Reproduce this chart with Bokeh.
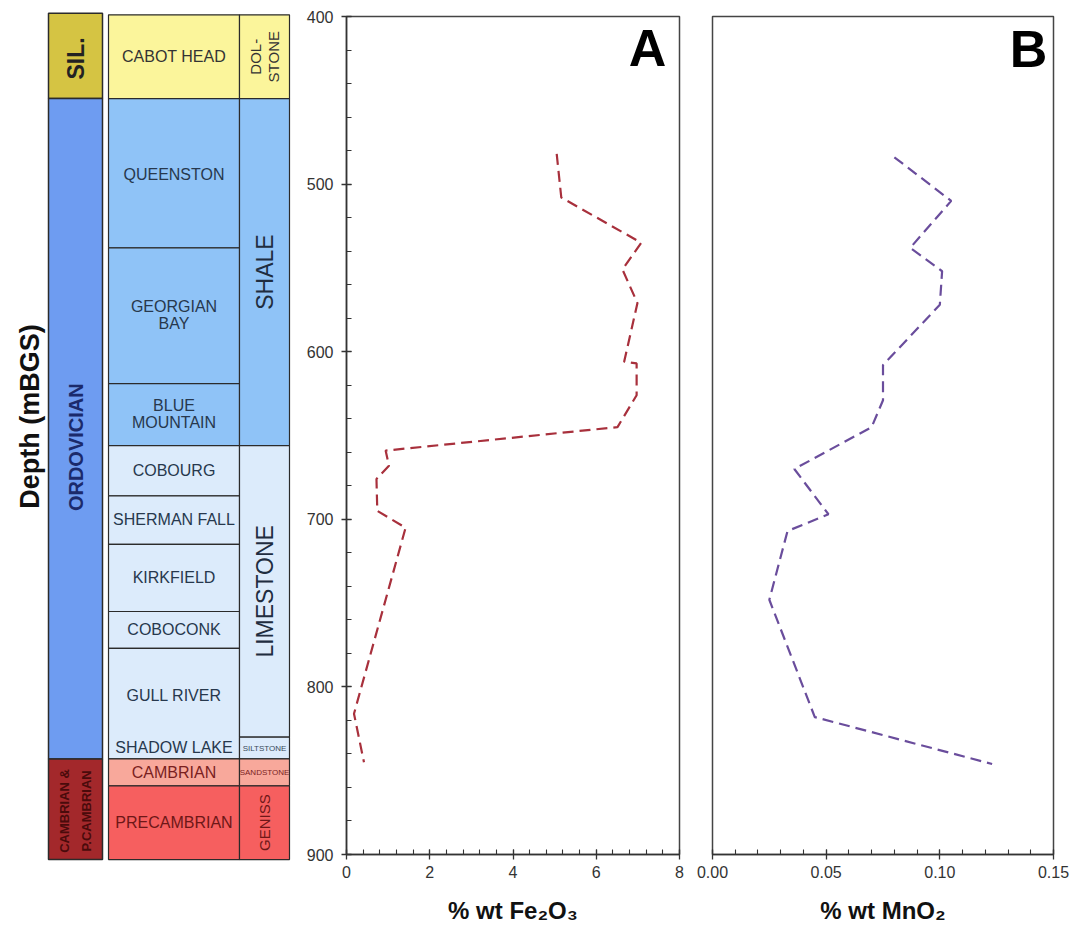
import math
from bokeh.plotting import figure
from bokeh.layouts import row
from bokeh.models import Range1d, FixedTicker, PrintfTickFormatter, Label
from bokeh.core.properties import value
from bokeh.embed import file_html
from bokeh.resources import INLINE

# ---------------- data ----------------
fe_depth = [482, 508, 535, 551, 571, 606, 607, 626, 645, 659, 668, 676, 695, 705, 816, 845]
fe_pct = [5.05, 5.16, 7.08, 6.63, 6.99, 6.67, 6.97, 6.97, 6.51, 0.94, 1.02, 0.72, 0.74, 1.42, 0.18, 0.42]

mn_depth = [484, 510, 538, 552, 572, 608, 629, 645, 670, 697, 707, 748, 818, 846]
mn_pct = [0.080, 0.105, 0.087, 0.101, 0.100, 0.075, 0.075, 0.070, 0.036, 0.051, 0.033, 0.025, 0.045, 0.123]

depth_ticks = [400, 500, 600, 700, 800, 900]
fe_ticks = [0, 2, 4, 6, 8]
mn_ticks = [0.00, 0.05, 0.10, 0.15]

period_names = ["SIL.", "ORDOVICIAN", "CAMBRIAN &\nP.CAMBRIAN"]
period_top = [398, 449, 843]
period_base = [449, 843, 903]
period_label_depth = [425, 657, 874]

formation_top = [399, 449, 538, 619, 656, 686, 715, 755, 777, 843, 859]
formation_base = [449, 538, 619, 656, 686, 715, 755, 777, 843, 859, 903]
formation_labels = ["CABOT HEAD", "QUEENSTON", "GEORGIAN\nBAY", "BLUE\nMOUNTAIN", "COBOURG",
                    "SHERMAN FALL", "KIRKFIELD", "COBOCONK", "GULL RIVER", "SHADOW LAKE",
                    "CAMBRIAN", "PRECAMBRIAN"]
formation_label_depth = [424, 494, 578, 637, 671, 700, 735, 766, 805, 836, 851, 881]

lith_names = ["DOL-\nSTONE", "SHALE", "LIMESTONE", "SILTSTONE", "SANDSTONE", "GENISS"]
lith_top = [399, 449, 656, 830, 843, 859]
lith_base = [449, 656, 830, 843, 859, 903]

# ---------------- styles ----------------
FONT = "Liberation Sans"
H = 930
FRAME_TOP = 16
FRAME_BOTTOM = 854
K = (FRAME_BOTTOM - FRAME_TOP) / (depth_ticks[-1] - depth_ticks[0])
EDGE = "#2b2b2b"

period_colors = ["#d5c443", "#6e9cf1", "#a3282b"]
period_text_colors = ["#222222", "#1b2a6b", "#4a0b0b"]
period_font = ["23px", "20px", "13px"]
period_line_height = [1.1, 1.1, 1.45]

formation_colors = ["#fbf59b", "#8fc3f7", "#8fc3f7", "#8fc3f7", "#dcebfb", "#dcebfb",
                    "#dcebfb", "#dcebfb", "#dcebfb", "#f8a89b", "#f65f5f"]
formation_text_colors = ["#333333"] + ["#27384d"] * 9 + ["#7a1f1f", "#6e1717"]

lith_colors = ["#fbf59b", "#8fc3f7", "#dcebfb", "#dcebfb", "#f8a89b", "#f65f5f"]
lith_text_colors = ["#333333", "#1f2d40", "#1f2d40", "#3a4a5a", "#7a1f1f", "#6e1717"]
lith_font = ["15px", "23px", "23px", "8px", "8px", "15px"]
lith_angle = [math.pi / 2, math.pi / 2, math.pi / 2, 0, 0, math.pi / 2]

# ---------------- stratigraphic column ----------------
SW = 300
s = figure(width=SW, height=H, output_backend="svg", toolbar_location=None,
           x_range=Range1d(0, SW),
           y_range=Range1d(depth_ticks[0] + (H - FRAME_TOP) / K, depth_ticks[0] - FRAME_TOP / K),
           x_axis_location=None, y_axis_location=None, min_border=0)
s.frame_align = False
s.outline_line_color = None
s.grid.visible = False

PL, PR = 48, 102
FL, FR = 108, 239
LL, LR = 239, 289

s.quad(left=PL, right=PR, top=period_top, bottom=period_base, fill_color=period_colors,
       line_color=EDGE, line_width=1.5)
s.quad(left=FL, right=FR, top=formation_top, bottom=formation_base, fill_color=formation_colors,
       line_color=EDGE, line_width=1.2)
s.quad(left=LL, right=LR, top=lith_top, bottom=lith_base, fill_color=lith_colors,
       line_color=EDGE, line_width=1.2)

for name, d, c, fs, lh in zip(period_names, period_label_depth, period_text_colors, period_font, period_line_height):
    s.text(x=[(PL + PR) / 2], y=[d], text=[name], angle=math.pi / 2,
           text_align="center", text_baseline="middle", text_color=c,
           text_font=value(FONT), text_font_style="bold", text_font_size=fs,
           text_line_height=lh)

for name, d, c in zip(formation_labels, formation_label_depth, formation_text_colors):
    s.text(x=[(FL + FR) / 2], y=[d], text=[name], text_align="center", text_baseline="middle",
           text_color=c, text_font=value(FONT), text_font_size="16px", text_line_height=1.0)

for name, t, b, c, fs, ang in zip(lith_names, lith_top, lith_base, lith_text_colors, lith_font, lith_angle):
    s.text(x=[(LL + LR) / 2], y=[(t + b) / 2], text=[name], angle=ang,
           text_align="center", text_baseline="middle", text_color=c,
           text_font=value(FONT), text_font_size=fs, text_line_height=1.05)

s.text(x=[29], y=[depth_ticks[0] + (416 - FRAME_TOP) / K], text=["Depth (mBGS)"], angle=math.pi / 2,
       text_align="center", text_baseline="middle", text_color="#111111",
       text_font=value(FONT), text_font_style="bold", text_font_size="27px")


def style_axis(ax):
    ax.axis_line_color = "#333333"
    ax.axis_line_width = 1.5
    ax.major_tick_line_color = "#333333"
    ax.minor_tick_line_color = "#333333"
    ax.major_tick_line_width = 1.3
    ax.minor_tick_line_width = 1.1
    ax.major_tick_in = 5
    ax.major_tick_out = 5
    ax.minor_tick_in = 5
    ax.minor_tick_out = 0
    ax.major_label_text_font = FONT
    ax.major_label_text_font_size = "16px"
    ax.major_label_text_color = "#333333"
    ax.major_label_standoff = 6
    ax.axis_label_text_font = FONT
    ax.axis_label_text_font_style = "bold"
    ax.axis_label_text_font_size = "24px"
    ax.axis_label_text_color = "#111111"
    ax.axis_label_standoff = 16


# ---------------- panel A ----------------
a = figure(width=395, height=H, output_backend="svg", toolbar_location=None,
           x_range=Range1d(fe_ticks[0], fe_ticks[-1]),
           y_range=Range1d(depth_ticks[-1], depth_ticks[0]),
           min_border_left=46, min_border_right=16, min_border_top=FRAME_TOP,
           min_border_bottom=H - FRAME_BOTTOM)
a.grid.visible = False
a.outline_line_color = "#444444"
a.outline_line_width = 1.5
a.xaxis.ticker = FixedTicker(ticks=fe_ticks, minor_ticks=[i * 0.4 for i in range(21)])
a.yaxis.ticker = FixedTicker(ticks=depth_ticks, minor_ticks=list(range(400, 901, 20)))
a.xaxis.axis_label = "% wt Fe₂O₃"
style_axis(a.xaxis[0])
style_axis(a.yaxis[0])
a.yaxis.major_label_standoff = 8
a.line(fe_pct, fe_depth, line_color="#a8303c", line_width=2.2, line_dash="11 6")
a.add_layout(Label(x=7.23, y=418.5, text="A", text_align="center", text_baseline="middle",
                   text_font=FONT, text_font_style="bold", text_font_size="52px",
                   text_color="#000000"))

# ---------------- panel B ----------------
b = figure(width=377, height=H, output_backend="svg", toolbar_location=None,
           x_range=Range1d(mn_ticks[0], mn_ticks[-1]),
           y_range=Range1d(depth_ticks[-1], depth_ticks[0]),
           y_axis_location=None,
           min_border_left=17, min_border_right=19, min_border_top=FRAME_TOP,
           min_border_bottom=H - FRAME_BOTTOM)
b.grid.visible = False
b.outline_line_color = "#444444"
b.outline_line_width = 1.5
b.xaxis.ticker = FixedTicker(ticks=mn_ticks, minor_ticks=[i * 0.01 for i in range(16)])
b.xaxis.formatter = PrintfTickFormatter(format="%.2f")
b.xaxis.axis_label = "% wt MnO₂"
style_axis(b.xaxis[0])
b.line(mn_pct, mn_depth, line_color="#6a4d9c", line_width=2.2, line_dash="11 6")
b.add_layout(Label(x=0.139, y=419.5, text="B", text_align="center", text_baseline="middle",
                   text_font=FONT, text_font_style="bold", text_font_size="52px",
                   text_color="#000000"))

layout = row(s, a, b)
open("out.html", "w").write(file_html(layout, INLINE))
